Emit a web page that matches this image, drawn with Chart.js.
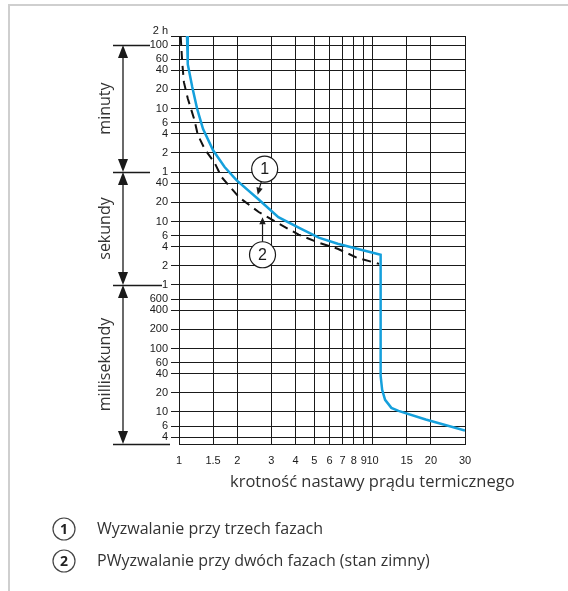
<!DOCTYPE html>
<html><head><meta charset="utf-8">
<script src="https://cdn.jsdelivr.net/npm/chart.js@4.4.1/dist/chart.umd.min.js"></script>
<style>
html,body{margin:0;padding:0;background:#fff;}
#wrap{position:relative;width:568px;height:591px;overflow:hidden;}
#frame{position:absolute;left:8px;top:4px;width:600px;height:620px;border-top:2px solid #cfcfcf;border-left:2px solid #cfcfcf;}
canvas{position:absolute;left:0;top:0;}
</style></head><body>
<div id="wrap"><div id="frame"></div><canvas id="c" width="568" height="591"></canvas></div>
<script>
// ---- data ----
const xTickValues=[1,1.5,2,3,4,5,6,7,8,9,10,15,20,30];
const xTickLabels=['1','1.5','2','3','4','5','6','7','8','9','10','15','20','30'];
// y axis range in seconds (top edge labelled "2 h")
const yAxisMin=0.00313, yAxisMax=8340;
const yTickValues=[yAxisMax,6000,3600,2400,1200,600,360,240,120,60,40,20,10,6,4,2,1,0.6,0.4,0.2,0.1,0.06,0.04,0.02,0.01,0.006,0.004];
const yTickLabels=['2 h','100','60','40','20','10','6','4','2','1','40','20','10','6','4','2','1','600','400','200','100','60','40','20','10','6','4'];
// curve 1: three-phase tripping
const blueX=[1.10,1.11,1.17,1.24,1.33,1.5,1.72,1.98,2.58,3.26,4.15,5.27,6.6,8.32,11.0,11.0,11.2,11.6,12.5,13.6,18.8,30];
const blueY=[8340,2990,1325,600,288,132,72,44.7,22.2,11.7,8.0,5.57,4.47,3.72,3.0,0.037,0.0223,0.0155,0.0116,0.0104,0.0076,0.0051];
// curve 2: two-phase tripping (cold)
const dashX=[1.02,1.04,1.06,1.11,1.20,1.25,1.36,1.53,1.66,2.05,2.58,3.26,4.15,5.27,6.6,8.32,10.8];
const dashY=[8340,3100,1563,865,402,232,137,83,50,23.8,14.1,9.3,6.2,4.63,3.72,2.68,2.15];
const bandBounds=[6000,60,1,yAxisMin];
const bandLabels=['minuty','sekundy','millisekundy'];
const calloutLabels=['1','2'];
const calloutCenterX=[2.77,2.70];
const calloutCenterY=[67,2.99];
const calloutTipX=[2.55,2.70];
const calloutTipY=[26.4,11.7];
const legendItems=['Wyzwalanie przy trzech fazach','PWyzwalanie przy dwóch fazach (stan zimny)'];
const xTitle='krotność nastawy prądu termicznego';

const yLabelMap=new Map(yTickValues.map((v,i)=>[v,yTickLabels[i]]));
const xLabelMap=new Map(xTickValues.map((v,i)=>[v,xTickLabels[i]]));

function tri(ctx,x,y,dir,len,half){
  ctx.beginPath();ctx.moveTo(x,y);ctx.lineTo(x-half,y-dir*len);ctx.lineTo(x+half,y-dir*len);ctx.closePath();ctx.fill();
}

const overlay={id:'overlay',afterDraw(chart){
  const ctx=chart.ctx,xs=chart.scales.x,ys=chart.scales.y;
  ctx.save();
  // left bands
  ctx.strokeStyle='#1a1a1a';ctx.fillStyle='#1a1a1a';ctx.lineWidth=1.3;
  const bx=123,lineEnds=[150,150,162,170];
  bandBounds.forEach((b,i)=>{const y=Math.round(ys.getPixelForValue(b))+0.5;ctx.beginPath();ctx.moveTo(113,y);ctx.lineTo(lineEnds[i],y);ctx.stroke();});
  for(let i=0;i<bandLabels.length;i++){
    const y1=ys.getPixelForValue(bandBounds[i]),y2=ys.getPixelForValue(bandBounds[i+1]);
    ctx.beginPath();ctx.moveTo(bx,y1+10);ctx.lineTo(bx,y2-10);ctx.stroke();
    tri(ctx,bx,y1,-1,13,5);tri(ctx,bx,y2,1,13,5);
    ctx.save();ctx.translate(105,(y1+y2)/2);ctx.rotate(-Math.PI/2);
    ctx.font='16px "Open Sans"';ctx.fillStyle='#333';ctx.textAlign='center';ctx.textBaseline='middle';
    ctx.fillText(bandLabels[i],0,0);ctx.restore();
  }
  // callouts
  for(let i=0;i<calloutLabels.length;i++){
    const cx=xs.getPixelForValue(calloutCenterX[i]),cy=ys.getPixelForValue(calloutCenterY[i]);
    const tx=xs.getPixelForValue(calloutTipX[i]),ty=ys.getPixelForValue(calloutTipY[i]);
    const r=13;
    ctx.fillStyle='#fff';ctx.strokeStyle='#1a1a1a';ctx.lineWidth=1.2;
    ctx.beginPath();ctx.arc(cx,cy,r,0,Math.PI*2);ctx.fill();ctx.stroke();
    ctx.fillStyle='#1a1a1a';ctx.font='16px "Liberation Sans"';ctx.textAlign='center';ctx.textBaseline='middle';
    ctx.fillText(calloutLabels[i],cx,cy+1);
    const dx=tx-cx,dy=ty-cy,d=Math.hypot(dx,dy),ux=dx/d,uy=dy/d;
    const sx=cx+ux*r,sy=cy+uy*r,hl=7,hw=3.2;
    const bxp=tx-ux*hl,byp=ty-uy*hl;
    ctx.beginPath();ctx.moveTo(sx,sy);ctx.lineTo(bxp,byp);ctx.stroke();
    ctx.beginPath();ctx.moveTo(tx,ty);ctx.lineTo(bxp-uy*hw,byp+ux*hw);ctx.lineTo(bxp+uy*hw,byp-ux*hw);ctx.closePath();ctx.fill();
  }
  // x title
  ctx.fillStyle='#333';ctx.font='16.5px "Open Sans"';ctx.textAlign='left';ctx.textBaseline='alphabetic';
  ctx.fillText(xTitle,230,487);
  // legend
  const ly=[529,561];
  legendItems.forEach((t,i)=>{
    ctx.strokeStyle='#444';ctx.lineWidth=1.2;ctx.beginPath();ctx.arc(64,ly[i],11,0,Math.PI*2);ctx.stroke();
    ctx.fillStyle='#222';ctx.font='bold 14px "Open Sans"';ctx.textAlign='center';ctx.textBaseline='middle';
    ctx.fillText(String(i+1),64,ly[i]+1);
    ctx.fillStyle='#333';ctx.font='16px "Open Sans"';ctx.textAlign='left';
    ctx.fillText(t,97,ly[i]);
  });
  ctx.restore();
}};

function build(){
  new Chart(document.getElementById('c'),{
    type:'scatter',
    data:{datasets:[
      {data:blueX.map((x,i)=>({x,y:blueY[i]})),showLine:true,borderColor:'#15a0dc',borderWidth:2.5,pointRadius:0,tension:0,order:1},
      {data:dashX.map((x,i)=>({x,y:dashY[i]})),showLine:true,borderColor:'#111',borderWidth:2,borderDash:[9,6],pointRadius:0,tension:0,order:2}
    ]},
    options:{
      responsive:false,animation:false,devicePixelRatio:1,
      layout:{padding:{left:119,right:103,top:36,bottom:117}},
      plugins:{legend:{display:false},tooltip:{enabled:false}},
      scales:{
        x:{type:'logarithmic',min:1,max:30,
          afterBuildTicks:s=>{s.ticks=xTickValues.map(v=>({value:v}));},
          afterFit:s=>{s.height=30;},
          grid:{color:'#1a1a1a',lineWidth:1,drawTicks:false},
          border:{color:'#1a1a1a',width:1},
          ticks:{autoSkip:false,maxRotation:0,padding:10,color:'#1a1a1a',font:{family:'Liberation Sans',size:11},callback:v=>xLabelMap.get(v)??''}
        },
        y:{type:'logarithmic',min:yAxisMin,max:yAxisMax,
          afterBuildTicks:s=>{s.ticks=yTickValues.slice().reverse().map(v=>({value:v}));},
          afterFit:s=>{s.width=60;},
          grid:{color:'#1a1a1a',lineWidth:1,tickLength:8},
          border:{color:'#1a1a1a',width:1},
          ticks:{autoSkip:false,padding:3,color:'#1a1a1a',font:{family:'Liberation Sans',size:11,lineHeight:1},
            callback:v=>{const l=yLabelMap.get(v)??'';return v===yAxisMax?[l,'']:l;}}
        }
      }
    },
    plugins:[overlay]
  });
}
Promise.all([document.fonts.load('16px "Open Sans"'),document.fonts.load('bold 14px "Open Sans"'),document.fonts.load('11px "Liberation Sans"')]).then(build,build);
</script>
</body></html>
